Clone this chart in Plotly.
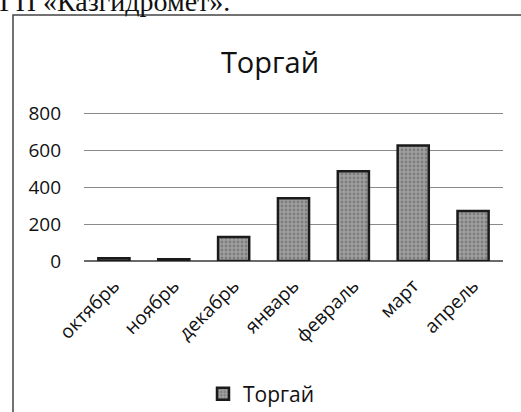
import plotly.graph_objects as go

months = ["октябрь", "ноябрь", "декабрь", "январь", "февраль", "март", "апрель"]
torgai = [15, 10, 130, 340, 485, 625, 270]
y_ticks = [0, 200, 400, 600, 800]

W, H = 521, 412
L, R, T, B = 84, 18, 112, 151
pw, ph = W - L - R, H - T - B

def px(x):
    return (x - L) / pw

def py(y):
    return 1 + (T - y) / ph

FONT = "Open Sans"

fig = go.Figure()
fig.add_trace(go.Bar(
    x=months, y=torgai, name="Торгай",
    width=0.52,
    marker=dict(
        color="#8c8c8c",
        line=dict(color="#1a1a1a", width=2.5),
        pattern=dict(shape=".", fgcolor="#5a5a5a", bgcolor="#a0a0a0", size=4, solidity=0.4),
    ),
))

fig.update_layout(
    width=W, height=H,
    margin=dict(l=L, r=R, t=T, b=B, autoexpand=False),
    paper_bgcolor="white", plot_bgcolor="white",
    font=dict(family=FONT, size=18, color="#111"),
    title=dict(text="Торгай", xref="container", x=270 / W, xanchor="center",
               yref="container", y=1 - 63 / H, yanchor="middle",
               font=dict(family=FONT, size=29, color="#111")),
    showlegend=True,
    legend=dict(orientation="h", x=px(203), xanchor="left", y=py(394), yanchor="middle",
                font=dict(family=FONT, size=21, color="#111"), bgcolor="rgba(0,0,0,0)",
                itemwidth=30),
    bargap=0.48,
)
fig.update_xaxes(tickangle=-45, showline=False, ticks="", tickfont=dict(size=19),
                 ticklabelstandoff=9, automargin=False)
fig.update_yaxes(range=[0, 806], tickvals=y_ticks, showgrid=True, gridcolor="#8a8a8a", gridwidth=1.2,
                 zeroline=True, zerolinecolor="#6a6a6a", zerolinewidth=1.5,
                 showline=False, ticks="", ticklabelstandoff=22, tickfont=dict(size=19),
                 automargin=False)

# outer chart frame (scanned page border); right and bottom edges lie off the page
fig.add_shape(type="rect", xref="paper", yref="paper",
              x0=px(13), x1=px(700), y0=py(500), y1=py(15),
              line=dict(color="#444", width=1.5), fillcolor="rgba(0,0,0,0)", layer="below")

# cut-off caption of the scanned page
fig.add_annotation(text="РГП «Казгидромет».", xref="paper", yref="paper",
                   x=px(-18), xanchor="left", y=py(19), yanchor="bottom",
                   showarrow=False, font=dict(family="Liberation Serif", size=28, color="#111"))

fig.write_html("out.html", config={"displayModeBar": False},
               post_script="document.body.style.margin='0';document.body.style.overflow='hidden';")
